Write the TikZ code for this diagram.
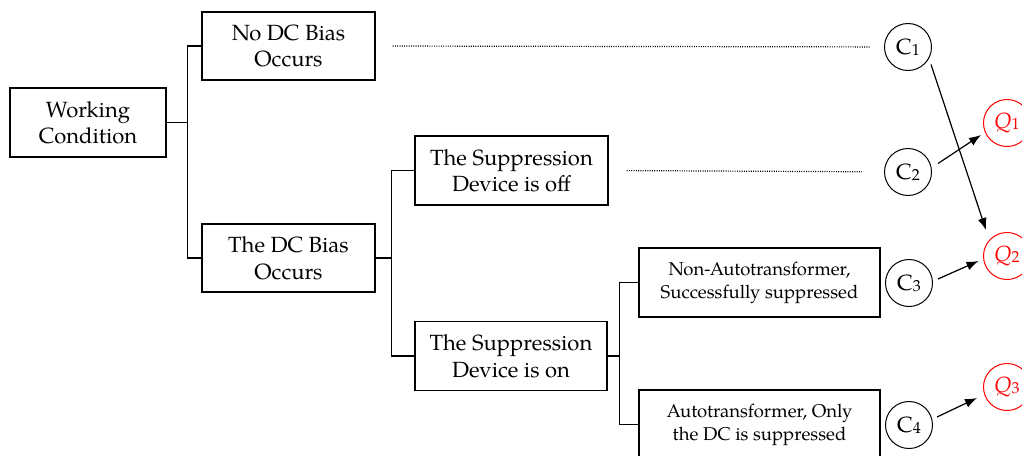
\documentclass[tikz,border=0pt]{standalone}
\usepackage{fontspec}
\setmainfont{texgyrepagella}[Extension=.otf, UprightFont=*-regular, ItalicFont=*-italic, BoldFont=*-bold, BoldItalicFont=*-bolditalic]
\usetikzlibrary{arrows.meta}
\newcommand\idx[1]{\raisebox{-1pt}{\fontsize{16}{16}\selectfont #1}}

\begin{document}
\begin{tikzpicture}[x=1pt,y=-1pt,
    box/.style={draw,line width=1.2pt,align=center,inner sep=0pt,font=\fontsize{22}{26.5}\selectfont},
    smallbox/.style={box,font=\fontsize{18.5}{23}\selectfont},
    state/.style={draw,circle,line width=1pt,minimum size=47pt,inner sep=0pt,font=\fontsize{22}{26}\selectfont},
    result/.style={state,red},
    branch/.style={line width=1.2pt},
    guide/.style={line width=1.2pt,dash pattern=on 1pt off 1.3pt},
    arr/.style={-{Latex[length=12pt,width=9pt]},line width=1.2pt}]
    \useasboundingbox (0,0) rectangle (1022,455);
    % Definitions
    \coordinate (Working)  at (88,122.5);
    \coordinate (NoBias)   at (288.5,46);
    \coordinate (DCBias)   at (288.5,258);
    \coordinate (SupOff)   at (511.5,170.5);
    \coordinate (SupOn)    at (511,356);
    \coordinate (NonAuto)  at (759.5,282.5);
    \coordinate (Auto)     at (759.5,424.5);
    % Nodes
    \node(WC)   at (Working) [box,minimum width=156pt,minimum height=69pt] {Working\\Condition};
    \node(NDB)  at (NoBias)  [box,minimum width=173pt,minimum height=68pt] {No DC Bias\\Occurs};
    \node(DCB)  at (DCBias)  [box,minimum width=173pt,minimum height=68pt] {The DC Bias\\Occurs};
    \node(SOff) at (SupOff)  [box,minimum width=193pt,minimum height=69pt] {The Suppression\\Device is off};
    \node(SOn)  at (SupOn)   [box,minimum width=192pt,minimum height=69pt] {The Suppression\\Device is on};
    \node(NAT)  at (NonAuto) [smallbox,minimum width=241pt,minimum height=69pt] {Non-Autotransformer,\\Successfully suppressed};
    \node(AT)   at (Auto)    [smallbox,minimum width=241pt,minimum height=69pt] {Autotransformer, Only\\the DC is suppressed};
    % Circles
    \node(C1) at (908,47)  [state] {C\idx{1}};
    \node(C2) at (908,172) [state] {C\idx{2}};
    \node(C3) at (909,283) [state] {C\idx{3}};
    \node(C4) at (909,425) [state] {C\idx{4}};
    \node(Q1) at (1007,123) [result] {\textit{Q}\idx{1}};
    \node(Q2) at (1007,256) [result] {\textit{Q}\idx{2}};
    \node(Q3) at (1007,387) [result] {\textit{Q}\idx{3}};
    % Tree
    \draw[branch] (WC.east) -- ++(21,0) |- (NDB.west);
    \draw[branch] (WC.east) -- ++(21,0) |- (DCB.west);
    \draw[branch] (DCB.east) -- ++(16,0) |- (SOff.west);
    \draw[branch] (DCB.east) -- ++(16,0) |- (SOn.west);
    \draw[branch] (SOn.east) -- ++(12,0) |- (NAT.west);
    \draw[branch] (SOn.east) -- ++(12,0) |- (AT.west);
    % Dotted guides
    \draw[guide,shorten <=17pt,shorten >=14.5pt] (NDB.east) -- (C1);
    \draw[guide,shorten <=18pt,shorten >=22.5pt] (SOff.east) -- (C2);
    % Arrows
    \draw[arr] ([shift={(23,17.5)}]C1.center) -- ([shift={(-21,-26)}]Q2.center);
    \draw[arr] ([shift={(30,-8.5)}]C2.center) -- ([shift={(-26,12)}]Q1.center);
    \draw[arr] ([shift={(29,-4)}]C3.center) -- ([shift={(-28.5,5)}]Q2.center);
    \draw[arr] ([shift={(28,-8)}]C4.center) -- ([shift={(-30,11)}]Q3.center);
\end{tikzpicture}
\end{document}
